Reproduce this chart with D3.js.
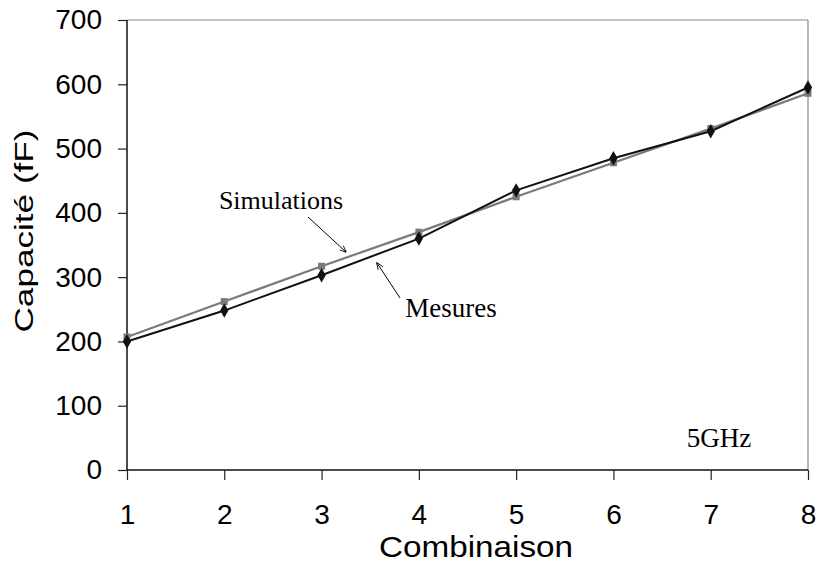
<!DOCTYPE html>
<html><head><meta charset="utf-8">
<script src="https://cdn.jsdelivr.net/npm/d3@7"></script>
<style>body{margin:0;background:#fff}svg{display:block}</style>
</head><body>
<svg id="c" width="819" height="563"></svg>
<script>
const combinaisons = [1,2,3,4,5,6,7,8];
const mesures = [200,248,303,360,435,485,527,595];
const simulations = [207,262,317,370,425,478,531,586];
const yTicks = [0,100,200,300,400,500,600,700];

const svg = d3.select("#c");
const x = d3.scaleLinear().domain([1,8]).range([127,808]);
const y = d3.scaleLinear().domain([0,700]).range([470,20]);
const sans = "'Liberation Sans', Arial, sans-serif";
const serif = "'Liberation Serif','Times New Roman',serif";

// frame: top and right gray
svg.append("line").attr("x1",127).attr("x2",808).attr("y1",y(700)).attr("y2",y(700)).attr("stroke","#888").attr("stroke-width",1.2);
svg.append("line").attr("x1",808).attr("x2",808).attr("y1",y(700)).attr("y2",y(0)).attr("stroke","#888").attr("stroke-width",1.2);

const yAxis = svg.append("g").attr("transform","translate(127,0)")
  .call(d3.axisLeft(y).tickValues(yTicks).tickFormat(d3.format("d")).tickSize(9).tickPadding(16));
const xAxis = svg.append("g").attr("transform",`translate(0,${y(0)})`)
  .call(d3.axisBottom(x).tickValues(combinaisons).tickFormat(d3.format("d")).tickSize(10).tickPadding(24));
[yAxis,xAxis].forEach(g=>{
  g.select(".domain").attr("stroke","#111").attr("stroke-width",1.5);
  g.selectAll(".tick line").attr("stroke","#222").attr("stroke-width",1.2);
  g.selectAll(".tick text").attr("font-family",sans).attr("font-size",28).attr("fill","#000");
});
xAxis.select(".domain").attr("d",`M127,0H808`);
yAxis.select(".domain").attr("d",`M0,${y(700)}V${y(0)}`);

const line = d3.line().x((d,i)=>x(combinaisons[i])).y(d=>y(d));
svg.append("path").datum(simulations).attr("d",line).attr("fill","none").attr("stroke","#7a7a7a").attr("stroke-width",2.2);
svg.append("path").datum(mesures).attr("d",line).attr("fill","none").attr("stroke","#111").attr("stroke-width",2);

svg.selectAll(".sq").data(simulations).enter().append("rect")
  .attr("x",(d,i)=>x(combinaisons[i])-3.5).attr("y",d=>y(d)-3.5).attr("width",7).attr("height",7).attr("fill","#7a7a7a");
svg.selectAll(".dm").data(mesures).enter().append("path")
  .attr("d",d3.symbol().type(d3.symbolDiamond).size(60))
  .attr("transform",(d,i)=>`translate(${x(combinaisons[i])},${y(d)})`).attr("fill","#111");

// annotations
const defs = svg.append("defs");
defs.append("marker").attr("id","ah").attr("viewBox","0 0 10 10").attr("refX",9).attr("refY",5)
  .attr("markerWidth",7).attr("markerHeight",7).attr("orient","auto")
  .append("path").attr("d","M0,1L10,5L0,9").attr("fill","none").attr("stroke","#000").attr("stroke-width",1.2);
svg.append("text").attr("x",281).attr("y",209).attr("text-anchor","middle").attr("font-family",serif).attr("font-size",26).text("Simulations");
svg.append("line").attr("x1",308).attr("y1",217).attr("x2",346).attr("y2",252).attr("stroke","#000").attr("stroke-width",1).attr("marker-end","url(#ah)");
svg.append("text").attr("x",451).attr("y",317).attr("text-anchor","middle").attr("font-family",serif).attr("font-size",27).text("Mesures");
svg.append("line").attr("x1",400).attr("y1",298).attr("x2",377).attr("y2",263).attr("stroke","#000").attr("stroke-width",1).attr("marker-end","url(#ah)");
svg.append("text").attr("x",719).attr("y",447).attr("text-anchor","middle").attr("font-family",serif).attr("font-size",27).text("5GHz");

svg.append("text").attr("transform","translate(33,231) rotate(-90)").attr("text-anchor","middle")
  .attr("font-family",sans).attr("font-size",26).attr("textLength",203).attr("lengthAdjust","spacingAndGlyphs").text("Capacité (fF)");
svg.append("text").attr("x",476).attr("y",557).attr("text-anchor","middle")
  .attr("font-family",sans).attr("font-size",30).attr("textLength",194).attr("lengthAdjust","spacingAndGlyphs").text("Combinaison");
</script>
</body></html>
